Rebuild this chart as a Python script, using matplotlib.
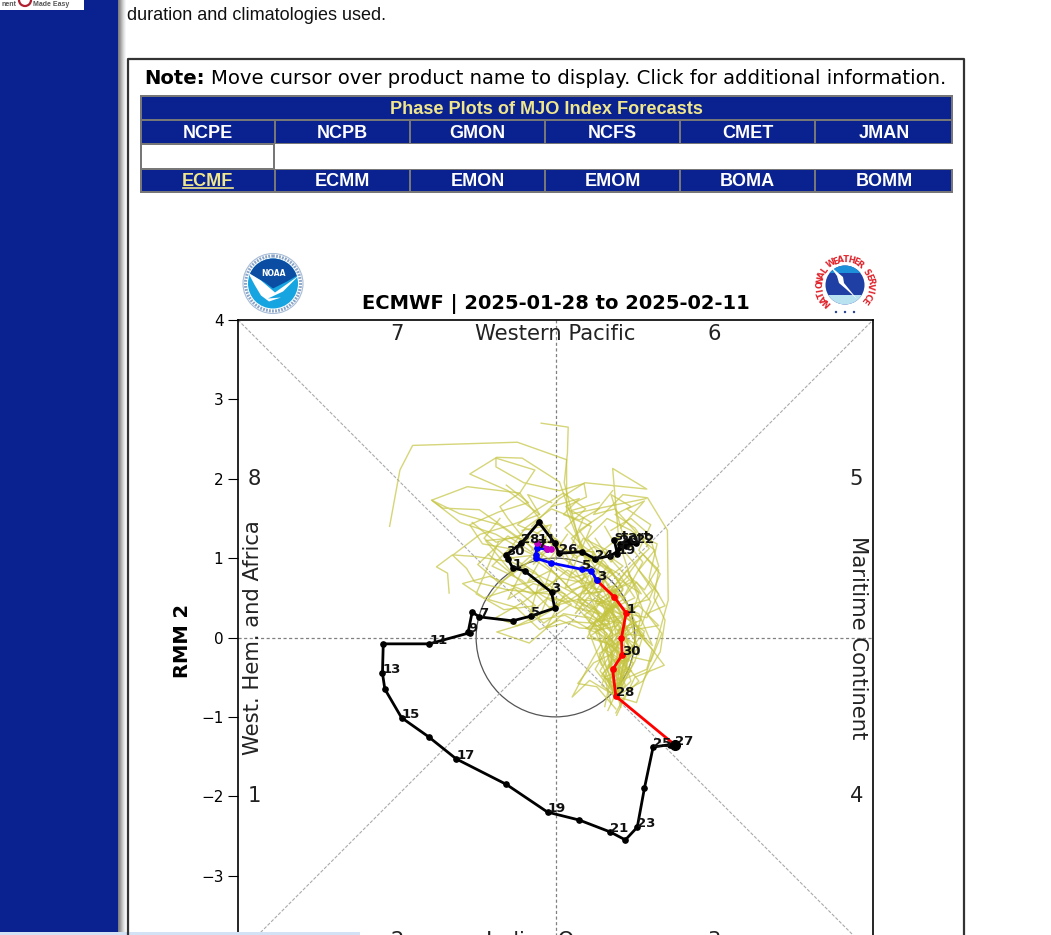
import matplotlib
matplotlib.use("Agg")
import numpy as np
import matplotlib.pyplot as plt
from matplotlib.patches import Rectangle, Circle, Polygon

# Table text on the page around the chart
top_row = ["NCPE", "NCPB", "GMON", "NCFS", "CMET", "JMAN"]
bottom_row = ["ECMF", "ECMM", "EMON", "EMOM", "BOMA", "BOMM"]

# Observed RMM track (black)
obs_x = [.74, .78, .81, .93, 1.02, .89, .69, .50, .33, .04, -.01, -.21, -.43, -.62, -.60, -.54, -.39, -.05, -.01,
         -.31, -.54, -.96, -1.05, -1.10, -1.08, -1.59, -2.17, -2.18, -2.15, -1.94, -1.60, -1.25, -.62, -.10, .30,
         .69, .88, 1.03, 1.12, 1.23, 1.44, 1.50]
obs_y = [1.23, 1.05, 1.18, 1.22, 1.19, 1.15, 1.03, .99, 1.08, 1.06, 1.19, 1.45, 1.19, 1.04, .99, .88, .84, .57, .37,
         .27, .21, .26, .32, .07, .06, -.08, -.08, -.45, -.65, -1.01, -1.25, -1.53, -1.85, -2.20, -2.30,
         -2.45, -2.55, -2.39, -1.90, -1.38, -1.35, -1.35]
obs_labels = ["start", "19", "20", "", "22", "", "", "24", "", "26", "", "", "28", "30", "", "1", "", "3", "",
              "5", "", "7", "", "9", "", "11", "", "13", "", "15", "", "17", "", "19", "",
              "21", "", "23", "", "25", "", "27"]

# Ensemble mean forecast: red, blue and magenta legs
red_x = [1.50, .76, .72, .84, .83, .89, .74, .52]
red_y = [-1.35, -.74, -.40, -.22, -.01, .31, .51, .72]
red_labels = ["", "28", "", "30", "", "1", "", "3"]
blue_x = [.52, .45, .33, -.06, -.25, -.25, -.23, -.11]
blue_y = [.72, .84, .86, .94, 1.00, 1.04, 1.13, 1.11]
blue_labels = ["", "", "5", "", "", "", "7", ""]
magenta_x = [-.11, -.06, -.23]
magenta_y = [1.11, 1.11, 1.19]
magenta_labels = ["", "", "11"]

# Ensemble members, read by eye from the spaghetti
members = [
    ([.76, .82, .75, .70, .55, .30, .14, .14, -.48, -1.80, -1.96, -2.09], [-.74, -.30, .10, .45, .80, 1.20, 1.60, 2.24, 2.46, 2.42, 2.11, 1.40]),
    ([.76, .70, .72, .60, .45, .30, .11, .15, .16, -.18], [-.74, -.35, .05, .40, .75, 1.20, 1.95, 2.32, 2.65, 2.70]),
    ([.76, .90, .85, .65, .40, .05, -.42, -.74, -1.08, -.60, -.20], [-.74, -.35, .05, .50, .95, 1.96, 2.26, 2.27, 2.06, 1.85, 1.55]),
    ([.76, .68, .60, .40, .10, -.45, -1.11, -1.56, -1.20, -.75, -.40, -.10], [-.74, -.30, .15, .60, 1.10, 1.82, 1.90, 1.73, 1.45, 1.30, 1.10, .95]),
    ([.76, .88, 1.00, 1.10, .95, .80, .72, 1.15, .37, .05, -.30], [-.74, -.40, -.05, .35, .75, 1.20, 2.13, 1.87, 1.95, 1.75, 1.40]),
    ([.76, 1.02, 1.27, 1.42, 1.41, 1.16, .85, .60, .30, .50, .20], [-.74, -.82, -.07, .47, 1.35, 1.76, 1.80, 1.55, 1.35, 1.05, .80]),
    ([.76, .62, .55, .30, -.10, -.60, -1.02, -1.12, -1.30, -1.50, -1.36, -1.34], [-.74, -.30, .05, .35, .55, .60, .70, .87, 1.04, .89, .81, .56]),
    ([.76, .43, .21, .45, .65, .40, .10, -.33, -.74, -.30, .05, -.20], [-.74, -.54, -.75, -.30, .05, .25, .30, -.07, .07, .20, .40, .55]),
    ([.77, 1.00, 1.37, 1.10, .95, 1.05, .90, .70, .80, .55, .35, .10], [-.98, -.50, -.35, .00, .25, .55, .85, .60, .35, .55, .80, 1.00]),
    ([.62, .70, .55, .80, .95, .75, .60, .85, .70, .45, .65, .35, .15], [-.87, -.50, -.20, -.05, .20, .40, .25, .60, .85, .70, 1.10, 1.25, .90]),
    ([.76, .85, .95, .78, 1.08, 1.20, 1.02, .85, 1.10, .90, .70, .50], [-.74, -.45, -.15, .10, .15, .45, .70, .50, .95, 1.20, .95, 1.25]),
    ([.76, .60, .80, .65, .90, .72, .50, .75, .35, .55, .20, -.10, .15], [-.74, -.45, -.25, .00, .10, .30, .45, .60, .55, .85, .75, .95, 1.30]),
    ([.76, .72, .95, .85, .68, 1.00, .80, .55, .30, .05, -.25, -.55, -.85], [-.74, -.40, -.20, .15, .35, .50, .80, .95, .70, .75, .55, .80, 1.05]),
    ([.76, .82, .65, .90, 1.15, 1.30, 1.05, 1.25, .95, .65, .40, .60], [-.74, -.15, .00, .30, .25, .55, .85, 1.10, 1.35, 1.50, 1.25, 1.00]),
    ([.76, .55, .72, .50, .30, .52, .20, -.05, -.35, -.15, -.60, -.90, -.70], [-.74, -.25, .05, .25, .45, .70, .60, .85, .70, 1.05, 1.00, 1.25, 1.50]),
    ([.76, .88, .70, .92, .78, .60, .82, .58, .30, .45, .10, .30, -.05], [-.74, -.60, -.20, .05, .42, .30, .68, .95, 1.05, 1.40, 1.55, 1.75, 1.65]),
    ([.76, .66, .85, 1.05, .88, .70, .92, 1.12, 1.30, 1.18, .95, .70], [-.74, -.55, -.35, -.12, .15, .55, .78, .60, .90, 1.30, 1.50, 1.35]),
    ([.76, .95, .80, 1.02, 1.22, 1.05, .80, .62, .85, .50, .25, .00, -.30], [-.74, -.55, -.05, .10, -.10, .30, .40, .72, .90, 1.15, 1.00, 1.25, 1.10]),
    ([.76, .58, .78, .55, .68, .40, .25, .50, .15, -.15, .05, -.40, -.75, -1.05], [-.74, -.60, -.10, .10, .40, .50, .30, .62, .85, .60, 1.15, 1.30, 1.20, 1.45]),
    ([.76, .86, .62, .75, .95, .72, .48, .70, .40, .20, .45, .20, .55], [-.74, -.30, -.15, .22, .35, .65, .55, .85, 1.00, 1.25, 1.45, 1.60, 1.70]),
    ([.76, .68, .88, .70, .55, .80, .60, .38, .15, -.10, -.32, -.20, -.55], [-.74, -.10, .12, .32, .15, .50, .75, .60, .45, .50, .30, .72, .65]),
    ([.76, .78, 1.05, .90, 1.18, 1.32, 1.10, .92, 1.08, .78, .55, .30], [-.74, -.05, -.22, .40, .48, .80, 1.05, .80, .55, .75, .92, 1.15]),
    ([.76, .92, .72, .58, .42, .60, .30, .05, -.20, -.50, -.85, -.65, -.30], [-.74, -.10, .28, .48, .20, .10, .12, .22, .10, .38, .48, .72, .98]),
    ([.76, .62, .48, .68, .85, .62, .35, .12, .38, .10, -.25, -.48, -.15, .10], [-.74, -.05, .18, .35, .62, .95, 1.15, 1.38, 1.62, 1.82, 1.60, 1.42, 1.28, 1.02]),
    ([.76, 1.00, 1.12, .88, .72, .95, 1.18, 1.00, .75, .95, .70, .85, .60], [-.74, -.30, .08, .25, .62, .90, 1.12, 1.38, 1.55, 1.65, 1.80, 1.30, 1.10]),
    ([.76, .70, .92, 1.15, 1.22, 1.00, 1.30, 1.05, .80, .55], [-.74, -.62, -.50, -.40, -.15, .10, .15, .40, .30, .50]),
    ([.76, .50, .68, .40, .55, .25, .42, .12, .28, -.02, -.28, -.05, -.42], [-.74, -.40, -.08, .00, .30, .38, .78, .62, 1.02, 1.18, .92, 1.42, 1.35]),
    ([.76, .84, .98, .72, .88, .65, .78, .50, .62, .32, .48, .18, .35], [-.74, -.62, -.32, -.12, .28, .15, .48, .42, .72, .68, 1.08, 1.10, 1.50]),
    # upper-left lobes
    ([.60, .30, -.10, -.54, -.96, -1.42, -1.56, -1.21, -.71, -.40, -.10], [.40, .70, 1.00, 1.31, 1.61, 1.63, 1.73, 1.56, 1.42, 1.20, 1.40]),
    ([.55, .20, -.20, -.60, -.70, -.45, -.26, -.75, -.75, -.40, .05, .36, .39, .13, .22, 1.14], [.30, .60, 1.00, 1.50, 1.65, 1.82, 2.11, 2.26, 2.15, 1.95, 1.85, 1.94, 1.77, 1.65, 1.56, 1.75]),
    ([.65, .25, -.15, -.55, -1.00, -1.29, -.95, -.55, -.20, -.35, -.05], [.25, .55, .75, .95, 1.02, 1.04, 1.30, 1.42, 1.55, 1.80, 1.70]),
    ([.70, .35, .05, -.30, -.83, -1.17, -.90, -.52, -.25, -.65, -1.00, -.72], [.10, .35, .60, .55, .77, .68, .50, .62, .40, .35, .55, 1.20]),
    ([.72, .50, .15, -.18, -.48, -.75, -.40, -.10, .20, -.15, -.45], [.05, .35, .50, .30, .15, .25, .45, .68, .42, .18, .48]),
    ([.58, .42, .70, .32, .02, -.25, -.62, -.38, -.05, .30, .55], [-.35, .08, .40, .65, .45, .82, 1.05, 1.38, 1.62, 1.48, 1.62]),
    ([.62, .28, -.08, -.42, -.80, -.58, -.92, -1.08, -.72, -.34, -.62], [.22, .48, .38, .72, .90, 1.12, 1.18, 1.42, 1.58, 1.70, 1.92]),
    ([.50, .18, -.12, .12, -.28, -.60, -.38, -.10, -.48, -.88, -.52], [.18, .20, .12, .55, .68, .48, .92, 1.12, 1.26, 1.22, .78]),
    ([.68, .40, .12, -.22, .02, -.32, -.70, -.98, -.60, -.22], [.35, .12, .28, .22, .78, 1.02, .68, .92, 1.28, 1.02]),
    # right-hand side
    ([.76, 1.10, 1.32, 1.38, 1.24, 1.30, 1.05, 1.20, .90, 1.12, .82], [-.74, -.55, -.18, .22, .50, .85, 1.10, 1.42, 1.62, 1.72, 1.38]),
    ([.76, .98, 1.20, 1.34, 1.15, 1.38, 1.18, 1.28, 1.02, .78, .62], [-.74, -.25, -.30, .05, .30, .40, .75, 1.18, 1.30, 1.12, 1.40]),
    ([.76, .90, 1.08, .95, 1.22, .98, .72, 1.02, .75, .48, .72], [-.74, -.20, .02, .32, .60, .95, 1.25, 1.32, 1.62, 1.55, 1.85]),
    # lower band around the red track
    ([.76, .52, .28, .48, .72, .60, .38, .68, .45], [-.90, -.62, -.58, -.32, -.20, .02, .12, .18, .42]),
    ([.76, .88, 1.05, .92, .72, .98, .80, 1.08, .85], [-.95, -.72, -.55, -.38, -.48, -.12, .10, .22, .48]),
    ([.66, .80, .58, .72, .92, .66, .88, .55, .78], [-.92, -.62, -.48, -.28, -.30, -.08, .18, .22, .40]),
    ([.70, .62, .84, .60, .50, .78, .62, .88, .60], [-.84, -.50, -.40, -.15, .08, .15, .32, .50, .62]),
    ([.82, .74, .96, .70, .86, 1.02, .78, .60, .92], [-.88, -.55, -.42, -.22, .02, .20, .08, .45, .72]),
    ([.72, .56, .75, .44, .64, .36, .58, .28, .50], [-.62, -.42, -.12, .02, .16, .28, .45, .48, .78]),
    ([.84, .66, 1.00, .80, 1.12, .86, .66, .96, .70], [-.60, -.35, -.08, .05, .02, .35, .55, .70, .98]),
    ([.66, .90, .70, .52, .84, .54, .80, .44, .66], [-.52, -.42, -.02, .20, .28, .42, .58, .62, .90]),
]

# Phase numbers and region names round the diagram
phase_numbers = ["7", "6", "8", "5", "1", "4", "2", "3"]
phase_x = [-2, 2, -3.79, 3.79, -3.79, 3.79, -2, 2]
phase_y = [3.82, 3.82, 2, 2, -2, -2, -3.82, -3.82]

fig = plt.figure(figsize=(10.51, 9.35), dpi=100)

# Chart axes run off the bottom of the screenshot
ax = fig.add_axes([238 / 1051, (935 - 955) / 935, 635 / 1051, 635 / 935])
ax.set_xlim(-4, 4)
ax.set_ylim(-4, 4)
for s in ax.spines.values():
    s.set_linewidth(1.2)
ax.plot([-4, 4], [-4, 4], color="#aaaaaa", lw=0.8, ls=(0, (3, 1.5)))
ax.plot([-4, 4], [4, -4], color="#aaaaaa", lw=0.8, ls=(0, (3, 1.5)))
ax.axhline(0, color="gray", lw=0.9, ls=(0, (2.5, 2)))
ax.axvline(0, color="gray", lw=0.9, ls=(0, (2.5, 2)))
ax.add_patch(Circle((0, 0), 1, fill=False, ec="#555555", lw=0.9))

for mx, my in members:
    ax.plot(mx, my, color="#c4c440", lw=1.0, alpha=0.7)


def draw_leg(xs, ys, labels, color, mcolor):
    ax.plot(xs, ys, color=color, lw=2, marker="o", ms=3.8, mfc=mcolor, mec=mcolor)
    for x, y, lab in zip(xs, ys, labels):
        if lab:
            ax.text(x, y, lab, fontsize=9.5, fontweight="bold", color="#111111",
                    ha="left", va="baseline", clip_on=False)


draw_leg(obs_x, obs_y, obs_labels, "black", "black")
draw_leg(red_x, red_y, red_labels, "red", "red")
draw_leg(blue_x, blue_y, blue_labels, "blue", "blue")
draw_leg(magenta_x, magenta_y, magenta_labels, "#c000c0", "#c000c0")
ax.plot(obs_x[-1], obs_y[-1], "o", color="black", ms=7, zorder=5)

for x, y, num in zip(phase_x, phase_y, phase_numbers):
    ax.text(x, y, num, fontsize=15.2, color="#222222", ha="center", va="center", clip_on=False)
ax.text(0, 3.82, "Western Pacific", fontsize=15.2, color="#222222", ha="center", va="center")
ax.text(0, -3.82, "Indian Ocean", fontsize=15.2, color="#222222", ha="center", va="center", clip_on=False)
ax.text(-3.81, 0, "West. Hem. and Africa", fontsize=15.2, color="#222222", rotation=90, ha="center", va="center")
ax.text(3.81, 0, "Maritime Continent", fontsize=15.2, color="#222222", rotation=-90, ha="center", va="center")

ax.set_yticks(range(-3, 5))
ax.tick_params(axis="y", labelsize=11, length=7)
ax.set_xticks([])
ax.set_ylabel("RMM 2", fontsize=14, fontweight="bold")
ax.yaxis.set_label_coords(-0.0725, 0.4945)
ax.set_title("ECMWF | 2025-01-28 to 2025-02-11", fontsize=14, fontweight="bold", pad=8)

# Page around the chart, drawn in screenshot pixels
page = fig.add_axes([0, 0, 1, 1], zorder=5)
page.set_xlim(0, 1051)
page.set_ylim(935, 0)
page.axis("off")

navy = "#0a2290"
page.add_patch(Rectangle((0, 0), 118, 935, fc=navy, ec="none"))
for i, level in enumerate([.50, .56, .62, .70, .78, .85, .91, .96, 1.0]):
    page.add_patch(Rectangle((118 + i, 0), 1, 935, fc=str(level), ec="none"))
page.add_patch(Rectangle((0, 0), 84, 10, fc="white", ec="none"))
page.text(2, 5, "nent", fontsize=5, color="#555555", fontweight="bold", va="center", family="Liberation Sans")
page.text(33, 5, "Made Easy", fontsize=5, color="#555555", fontweight="bold", va="center", family="Liberation Sans")
page.add_patch(Circle((25, 0), 6, fill=False, ec="#b02030", lw=1.6, clip_on=True))

page.text(127, 15, "duration and climatologies used.", fontsize=13, color="#111111",
          va="center", family="Liberation Sans")

page.plot([128, 128, 964, 964], [935, 59, 59, 935], color="#333333", lw=1.6)
page.text(144, 78, "Note:", fontsize=14.1, fontweight="bold", color="black", va="center")
page.text(211, 78, "Move cursor over product name to display. Click for additional information.",
          fontsize=14.1, color="black", va="center")

# Product table
edges = [140, 275, 410, 545, 680, 815, 953]
page.add_patch(Rectangle((140, 95), 813, 98, fc="#777777", ec="none"))
page.add_patch(Rectangle((142, 97), 809, 22, fc=navy, ec="none"))
page.text(546, 109, "Phase Plots of MJO Index Forecasts", fontsize=13.1, fontweight="bold", color="#f0e68c",
          ha="center", va="center", family="Liberation Sans")
page.add_patch(Rectangle((142, 145), 131, 23, fc="white", ec="none"))
page.add_patch(Rectangle((275, 144), 678, 25, fc="white", ec="none"))
for i in range(6):
    left = edges[i] + 2 if i == 0 else edges[i] + 1
    right = edges[i + 1] - 2 if i == 5 else edges[i + 1] - 1
    center = (edges[i] + edges[i + 1]) / 2
    page.add_patch(Rectangle((left, 121), right - left, 22, fc=navy, ec="none"))
    page.add_patch(Rectangle((left, 170), right - left, 21, fc=navy, ec="none"))
    page.text(center, 133, top_row[i], fontsize=13, fontweight="bold", color="white",
              ha="center", va="center", family="Liberation Sans")
    page.text(center, 181, bottom_row[i], fontsize=13, fontweight="bold",
              color="#f0e68c" if i == 0 else "white", ha="center", va="center", family="Liberation Sans")
page.plot([183, 233], [188, 188], color="#f0e68c", lw=1.2)

# NOAA logo
cx, cy = 273, 283.5
page.add_patch(Circle((cx, cy), 30, fc="white", ec="#a8bcd6", lw=0.8))
page.add_patch(Circle((cx, cy), 27.5, fill=False, ec="#8aa4c8", lw=2.2, ls=(0, (0.6, 0.4))))
sea = Circle((cx, cy), 25, fc="#17a5e2", ec="none")
page.add_patch(sea)
sky = Polygon([(cx - 26, cy - 26), (cx + 26, cy - 26), (cx + 26, cy - 9), (cx + 14, cy - 2), (cx, cy + 5),
               (cx - 8, cy - 1), (cx - 26, cy - 11)], fc="#0b4da2", ec="none")
page.add_patch(sky)
sky.set_clip_path(sea)
gull = Polygon([(cx - 25, cy - 11), (cx - 12, cy - 3), (cx + 2, cy + 9), (cx + 26, cy - 8), (cx + 10, cy + 8),
                (cx - 5, cy + 15), (cx + 8, cy + 14), (cx - 4, cy + 18), (cx - 12, cy + 12),
                (cx - 18, cy + 2)], fc="white", ec="none")
page.add_patch(gull)
gull.set_clip_path(sea)
page.text(cx, cy - 10, "NOAA", fontsize=5.5, fontweight="bold", color="white", ha="center", va="center")

# NWS logo
nx, ny = 845, 285
ring_text = "NATIONAL WEATHER SERVICE"
for i, ch in enumerate(ring_text):
    ang = np.deg2rad(225 - i * 11.4)
    page.text(nx + 25 * np.cos(ang), ny - 25 * np.sin(ang), ch, fontsize=6, fontweight="bold", color="#e0242c",
              ha="center", va="center", rotation=np.rad2deg(ang) - 90)
disk = Circle((nx, ny), 19.5, fc="#1f3fa5", ec="none")
page.add_patch(disk)
top_band = Polygon([(nx - 20, ny - 20), (nx + 20, ny - 20), (nx + 20, ny - 12), (nx - 20, ny - 12)], fc="#1c90d8", ec="none")
page.add_patch(top_band)
top_band.set_clip_path(disk)
low_band = Polygon([(nx - 20, ny + 10), (nx + 20, ny + 10), (nx + 20, ny + 20), (nx - 20, ny + 20)], fc="#b8e2ef", ec="none")
page.add_patch(low_band)
low_band.set_clip_path(disk)
bolt = Polygon([(nx - 15, ny - 19), (nx - 2, ny - 8), (nx - 1, ny - 2), (nx + 12, ny + 14), (nx + 1, ny + 4),
                (nx - 6, ny - 2), (nx - 8, ny - 9)], fc="white", ec="none")
page.add_patch(bolt)
for dx in [-9, 0, 9]:
    page.add_patch(Circle((nx + dx, ny + 27), 1.2, fc="#25408f", ec="none"))

# Browser scroll bar along the bottom edge
page.add_patch(Rectangle((0, 932), 360, 3, fc="#d3e2f5", ec="none"))

fig.savefig("out.png", dpi=100)
